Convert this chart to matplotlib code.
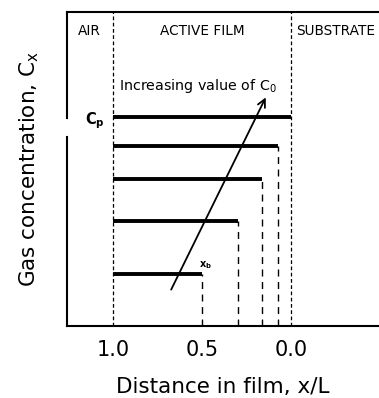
import matplotlib.pyplot as plt
import numpy as np

# concentration profiles: front position (x/L) and level
x_front = [0.5, 0.30, 0.165, 0.075, 0.0]
c_level = [0.166, 0.334, 0.468, 0.573, 0.666]
region_labels = ['AIR', 'ACTIVE FILM', 'SUBSTRATE']
region_x = [1.13, 0.5, -0.25]
xticks = [1.0, 0.5, 0.0]
xticklabels = ['1.0', '0.5', '0.0']

fig = plt.figure(figsize=(3.79, 3.98), dpi=100)
ax = fig.add_axes([67/379, 1-326/398, 1-67/379, (326-12)/398])

# film boundaries
ax.axvline(1.0, color='k', ls=(0, (3, 2)), lw=0.9)
ax.axvline(0.0, color='k', ls=(0, (3, 2)), lw=0.9)

for xf, c in zip(x_front, c_level):
    ax.plot([1.0, xf], [c, c], color='k', lw=2.8, solid_capstyle='butt')
    if xf > 0:
        ax.plot([xf, xf], [0, c], color='k', ls=(0, (5, 4)), lw=1.0)

ax.annotate('', xy=(0.135, 0.736), xytext=(0.68, 0.108),
            arrowprops=dict(arrowstyle='->', color='k', lw=1.3, mutation_scale=14))
ax.text(0.965, 0.765, 'Increasing value of C$_\\mathregular{0}$', fontsize=10.3, va='center')
ax.text(1.10, 0.655, 'C$_\\mathregular{p}$', fontsize=10.5, fontweight='bold', ha='center', va='center')
ax.text(0.48, 0.195, 'x$_\\mathregular{b}$', fontsize=7, fontweight='bold', ha='center', va='center')

for lab, rx in zip(region_labels, region_x):
    ax.text(rx, 0.94, lab, fontsize=9.8, ha='center', va='center')

ax.set_xlim(1.258, -0.494)
ax.set_ylim(0, 1)
ax.set_xticks(xticks)
ax.set_xticklabels(xticklabels, fontsize=15)
ax.set_yticks([])
ax.tick_params(axis='x', length=0, pad=10)
ax.spines['right'].set_visible(False)
ax.spines['left'].set_visible(False)
ax.plot([0, 0], [0, 1 - (137-12)/314], transform=ax.transAxes, color='k', lw=1.5, clip_on=False)
ax.plot([0, 0], [1 - (118-12)/314, 1], transform=ax.transAxes, color='k', lw=1.5, clip_on=False)
for s in ['top', 'bottom']:
    ax.spines[s].set_linewidth(1.5)

ax.set_xlabel('Distance in film, x/L', fontsize=15.5, labelpad=12)
ax.set_ylabel('Gas concentration, C$_\\mathregular{x}$', fontsize=15.5, labelpad=19)

fig.savefig('out.png', dpi=100)
